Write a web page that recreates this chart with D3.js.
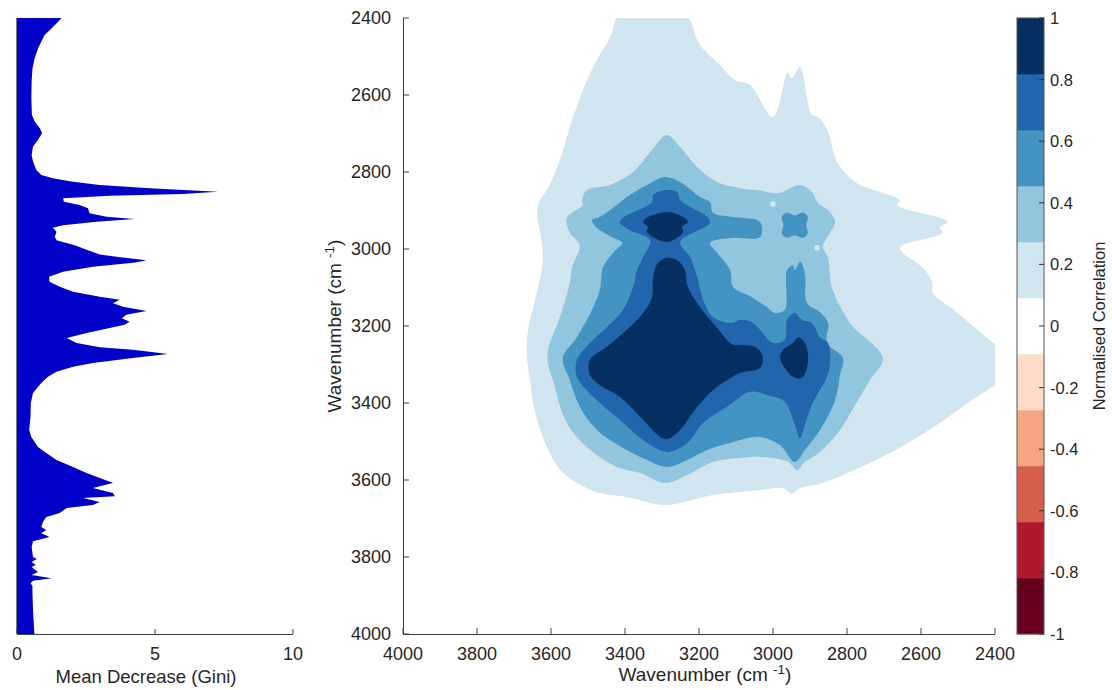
<!DOCTYPE html>
<html>
<head>
<meta charset="utf-8">
<script src="https://cdn.jsdelivr.net/npm/d3@7"></script>
<style>
  body { margin: 0; background: #fff; }
  text { font-family: "Liberation Sans", Arial, Helvetica, sans-serif; fill: #262626; }
</style>
</head>
<body>
<svg id="chart" width="1112" height="690"></svg>
<script>
// ---- Feature importance spectrum (Mean Decrease Gini vs wavenumber) ----
const giniWavenumber = [2400,2410,2427,2444,2462,2479,2505,2531,2565,2609,2652,2669,2686,2699,2717,2734,2756,2773,2795,2808,
  2816,2825,2834,2842,2851,2857,2862,2868,2877,2886,2894,2907,2916,2922,2929,2938,2945,2955,2968,2977,
  2990,3003,3014,3020,3029,3035,3046,3059,3072,3085,3098,3111,3124,3132,3141,3150,3161,3171,3180,3189,
  3197,3205,3218,3231,3244,3255,3262,3273,3283,3296,3306,3319,3332,3348,3374,3400,3436,3470,3488,3514,
  3530,3548,3566,3582,3595,3608,3613,3621,3634,3642,3647,3657,3665,3673,3686,3696,3709,3722,3730,3738,
  3748,3759,3774,3800,3805,3813,3821,3826,3839,3847,3855,3862,3868,3875,3893,3938,4000];
const giniValue = [1.61,1.49,1.25,1.00,0.88,0.76,0.64,0.56,0.53,0.52,0.54,0.64,0.82,0.91,0.76,0.58,0.53,0.58,0.70,0.88,
  1.30,2.03,3.00,4.81,7.28,6.00,3.36,1.67,1.70,2.27,2.57,2.63,3.24,4.26,2.88,1.67,1.30,1.43,1.37,1.43,
  2.09,2.57,3.00,3.60,4.69,4.30,2.75,1.67,1.16,1.18,1.55,2.03,3.00,3.72,3.48,3.84,4.69,3.96,3.80,4.08,
  3.90,3.36,2.52,1.80,2.16,3.00,4.20,5.47,4.20,2.75,2.03,1.43,1.12,0.88,0.58,0.50,0.49,0.44,0.52,0.76,
  1.06,1.43,2.03,2.52,3.00,3.48,3.18,2.75,3.48,3.54,2.39,3.00,2.75,1.80,1.55,1.06,0.94,0.88,1.06,0.88,
  1.18,0.58,0.53,0.58,0.72,0.53,0.68,0.53,0.76,0.53,1.25,0.58,0.49,0.56,0.56,0.58,0.63];
const giniTicks = [0, 5, 10];

// ---- 2D correlation map: filled contour outlines [x wavenumber, y wavenumber] ----
const band1Outline = [[3408,2380],[3245,2380],[3197,2470],[3143,2522],[3103,2561],[3062,2574],[3000,2657],[2960,2543],
  [2949,2556],[2927,2527],[2895,2652],[2878,2657],[2851,2696],[2827,2774],[2773,2829],[2711,2852],[2657,2873],[2665,2886],
  [2549,2919],[2527,2930],[2549,2945],[2541,2958],[2657,2995],[2649,3010],[2595,3049],[2570,3086],[2568,3114],[2503,3164],
  [2440,3216],[2395,3249],[2370,3250],[2370,3355],[2395,3353],[2427,3371],[2481,3405],[2549,3452],[2630,3501],[2711,3543],
  [2792,3579],[2873,3610],[2927,3621],[2949,3636],[2973,3621],[3035,3626],[3162,3639],[3292,3665],[3395,3644],[3468,3634],
  [3543,3600],[3581,3566],[3611,3514],[3643,3426],[3657,3340],[3665,3280],[3662,3210],[3643,3132],[3622,3029],[3630,2951],
  [3638,2912],[3630,2873],[3608,2842],[3576,2769],[3543,2665],[3508,2574],[3476,2509],[3441,2452]];

const band2Outline = [[3287,2704],[3251,2735],[3205,2787],[3151,2826],[3089,2842],[3043,2847],[2986,2855],[2954,2842],
  [2927,2834],[2895,2852],[2878,2881],[2851,2899],[2832,2930],[2846,2958],[2865,2995],[2851,3023],[2841,3099],[2792,3192],
  [2703,3283],[2738,3340],[2778,3405],[2819,3470],[2873,3527],[2914,3553],[2935,3574],[2959,3553],[3035,3540],[3089,3543],
  [3162,3553],[3232,3587],[3292,3608],[3359,3582],[3422,3566],[3503,3514],[3557,3452],[3595,3340],[3608,3296],[3608,3262],
  [3576,3177],[3549,3088],[3543,3047],[3522,2990],[3549,2958],[3557,2919],[3514,2886],[3516,2873],[3503,2847],[3441,2834],
  [3378,2800],[3327,2743]];
const band2Gaps = [[3000,2883],[2873,2873],[2881,2997]];

const band3Outline = [[3292,2813],[3332,2829],[3395,2865],[3405,2873],[3468,2917],[3489,2925],[3476,2945],[3432,2971],
  [3408,2984],[3432,3010],[3459,3047],[3468,3106],[3489,3158],[3530,3229],[3568,3283],[3549,3340],[3522,3410],[3476,3470],
  [3395,3522],[3341,3548],[3286,3566],[3232,3548],[3178,3522],[3108,3501],[3035,3488],[2981,3509],[2941,3553],[2914,3522],
  [2873,3470],[2832,3392],[2819,3327],[2811,3283],[2854,3244],[2851,3192],[2873,3164],[2908,3140],[2914,3062],[2927,3034],
  [2941,3055],[2946,3042],[2962,3055],[2968,3158],[2995,3166],[3016,3151],[3054,3127],[3070,3119],[3108,3099],[3116,3055],
  [3151,3010],[3170,2984],[3108,2971],[3035,2969],[3035,2930],[3108,2917],[3162,2906],[3170,2878],[3197,2865],[3251,2826]];
const band3Island = [[2962,2905],[2941,2913],[2920,2905],[2906,2916],[2910,2938],[2906,2960],[2920,2971],[2941,2964],
  [2962,2971],[2976,2960],[2972,2938],[2976,2916]];

const band4Outline = [[3292,2847],[3324,2860],[3327,2878],[3405,2919],[3414,2932],[3386,2951],[3332,2977],[3351,3021],
  [3368,3055],[3378,3099],[3405,3158],[3449,3203],[3495,3244],[3530,3288],[3530,3332],[3500,3371],[3468,3400],[3414,3444],
  [3351,3496],[3286,3527],[3232,3504],[3189,3452],[3124,3410],[3062,3371],[3008,3382],[2968,3397],[2941,3457],[2927,3491],
  [2914,3457],[2895,3405],[2873,3366],[2854,3332],[2846,3296],[2851,3244],[2873,3229],[2895,3192],[2922,3184],[2941,3166],
  [2962,3184],[2968,3236],[3000,3244],[3054,3192],[3089,3184],[3108,3192],[3162,3177],[3189,3132],[3205,3073],[3224,3021],
  [3251,2982],[3170,2932],[3178,2917],[3251,2873],[3259,2852]];

const band5Upper = [[3286,2904],[3243,2917],[3230,2930],[3246,2943],[3243,2956],[3286,2982],[3341,2956],[3338,2943],
  [3351,2930],[3341,2919]];
const band5Main = [[3286,3023],[3259,3029],[3238,3055],[3230,3099],[3197,3151],[3162,3192],[3108,3249],[3089,3249],
  [3043,3257],[3027,3283],[3035,3309],[3089,3322],[3124,3340],[3162,3366],[3205,3410],[3251,3470],[3286,3494],[3305,3488],
  [3359,3436],[3414,3384],[3468,3353],[3495,3327],[3495,3288],[3449,3254],[3395,3210],[3351,3166],[3327,3125],[3324,3073],
  [3311,3036]];
const band5Right = [[2932,3229],[2914,3244],[2905,3288],[2922,3335],[2946,3332],[2968,3309],[2981,3283],[2973,3262],
  [2946,3244]];

// contour levels and colours
const levelEdges = d3.range(12).map(i => -1 + i * 2 / 11);
const levelColors = ["#67001f","#b2182b","#d6604d","#f4a582","#fddbc7","#ffffff",
                     "#d1e5f0","#92c5de","#4393c3","#2166ac","#053061"];
const wnTicks = [4000, 3800, 3600, 3400, 3200, 3000, 2800, 2600, 2400];
const corrTicks = [-1, -0.8, -0.6, -0.4, -0.2, 0, 0.2, 0.4, 0.6, 0.8, 1];

// ---- layout ----
const svg = d3.select("#chart");
const axisColor = "#404040";
const plotTop = 18, plotBottom = 634;

// Left panel
const gx = d3.scaleLinear().domain([0, 10]).range([17, 293]);
const gy = d3.scaleLinear().domain([2400, 4000]).range([plotTop, plotBottom]);
const giniData = giniWavenumber.map((w, i) => ({ w, v: giniValue[i] }));
svg.append("path")
  .datum(giniData)
  .attr("fill", "#0000c8")
  .attr("d", d3.area().y(d => gy(d.w)).x0(gx(0)).x1(d => gx(d.v)));

const leftPanel = svg.append("g");
leftPanel.append("line").attr("x1", gx(0)).attr("x2", gx(0)).attr("y1", plotTop).attr("y2", plotBottom)
  .attr("stroke", "#202020").attr("stroke-width", 1.2);
leftPanel.append("line").attr("x1", gx(0)).attr("x2", gx(10)).attr("y1", plotBottom + 0.5).attr("y2", plotBottom + 0.5)
  .attr("stroke", axisColor);
giniTicks.forEach(t => {
  leftPanel.append("line").attr("x1", gx(t)).attr("x2", gx(t)).attr("y1", plotBottom).attr("y2", plotBottom - 5)
    .attr("stroke", axisColor);
  leftPanel.append("text").attr("x", gx(t)).attr("y", 660).attr("text-anchor", "middle")
    .attr("font-size", 18).text(t);
});
leftPanel.append("text").attr("x", 146).attr("y", 683).attr("text-anchor", "middle")
  .attr("font-size", 18.5).text("Mean Decrease (Gini)");

// Right panel: correlation map
const cx = d3.scaleLinear().domain([4000, 2400]).range([403, 995]);
const cy = d3.scaleLinear().domain([2400, 4000]).range([plotTop, plotBottom]);

svg.append("clipPath").attr("id", "plotClip").append("rect")
  .attr("x", 403).attr("y", plotTop).attr("width", 592).attr("height", plotBottom - plotTop);
const map = svg.append("g").attr("clip-path", "url(#plotClip)");

const ring = d3.line().x(d => cx(d[0])).y(d => cy(d[1])).curve(d3.curveCatmullRomClosed.alpha(0.5));
const layers = [
  [band1Outline, 6], [band2Outline, 7], [band3Outline, 8], [band3Island, 8],
  [band4Outline, 9], [band5Upper, 10], [band5Main, 10], [band5Right, 10]
];
layers.forEach(([pts, lvl], i) => {
  map.append("path").attr("d", ring(pts)).attr("fill", levelColors[lvl]);
  if (i === 1) {
    band2Gaps.forEach(p => {
      map.append("circle").attr("cx", cx(p[0])).attr("cy", cy(p[1])).attr("r", 2.8)
        .attr("fill", levelColors[6]);
    });
  }
});

const rightPanel = svg.append("g");
rightPanel.append("line").attr("x1", 403.5).attr("x2", 403.5).attr("y1", plotTop).attr("y2", plotBottom)
  .attr("stroke", axisColor);
rightPanel.append("line").attr("x1", 403).attr("x2", 995).attr("y1", plotBottom + 0.5).attr("y2", plotBottom + 0.5)
  .attr("stroke", axisColor);
wnTicks.forEach(t => {
  rightPanel.append("line").attr("x1", 403).attr("x2", 409).attr("y1", cy(t)).attr("y2", cy(t)).attr("stroke", axisColor);
  rightPanel.append("text").attr("x", 391).attr("y", cy(t)).attr("dy", "0.36em").attr("text-anchor", "end")
    .attr("font-size", 18).text(t);
  rightPanel.append("line").attr("x1", cx(t)).attr("x2", cx(t)).attr("y1", plotBottom).attr("y2", plotBottom - 6).attr("stroke", axisColor);
  rightPanel.append("text").attr("x", cx(t)).attr("y", 660).attr("text-anchor", "middle")
    .attr("font-size", 18).text(t);
});

function waveLabel(g, x, y, rotate) {
  const t = g.append("text").attr("text-anchor", "middle").attr("font-size", 19)
    .attr("transform", `translate(${x},${y})` + (rotate ? " rotate(-90)" : ""));
  t.append("tspan").text("Wavenumber (cm ");
  t.append("tspan").attr("font-size", 13.5).attr("dy", -7).text("-1");
  t.append("tspan").attr("dy", 7).text(")");
}
waveLabel(rightPanel, 705, 681, false);
waveLabel(rightPanel, 341, 326, true);

// Colour bar
const cb = svg.append("g");
const cbx = 1017, cbw = 27;
const cs = d3.scaleLinear().domain([-1, 1]).range([plotBottom, plotTop]);
levelColors.forEach((c, i) => {
  cb.append("rect").attr("x", cbx).attr("width", cbw)
    .attr("y", cs(levelEdges[i + 1])).attr("height", cs(levelEdges[i]) - cs(levelEdges[i + 1]) + 0.3)
    .attr("fill", c);
});
cb.append("rect").attr("x", cbx).attr("y", plotTop).attr("width", cbw).attr("height", plotBottom - plotTop)
  .attr("fill", "none").attr("stroke", "#555").attr("stroke-width", 1);
corrTicks.forEach(t => {
  cb.append("line").attr("x1", cbx + cbw).attr("x2", cbx + cbw - 5).attr("y1", cs(t)).attr("y2", cs(t))
    .attr("stroke", "#333");
  cb.append("text").attr("x", 1050).attr("y", cs(t)).attr("dy", "0.36em").attr("font-size", 16.5)
    .text(t);
});
cb.append("text").attr("text-anchor", "middle").attr("font-size", 16.5)
  .attr("transform", "translate(1105,326) rotate(-90)").text("Normalised Correlation");
</script>
</body>
</html>
